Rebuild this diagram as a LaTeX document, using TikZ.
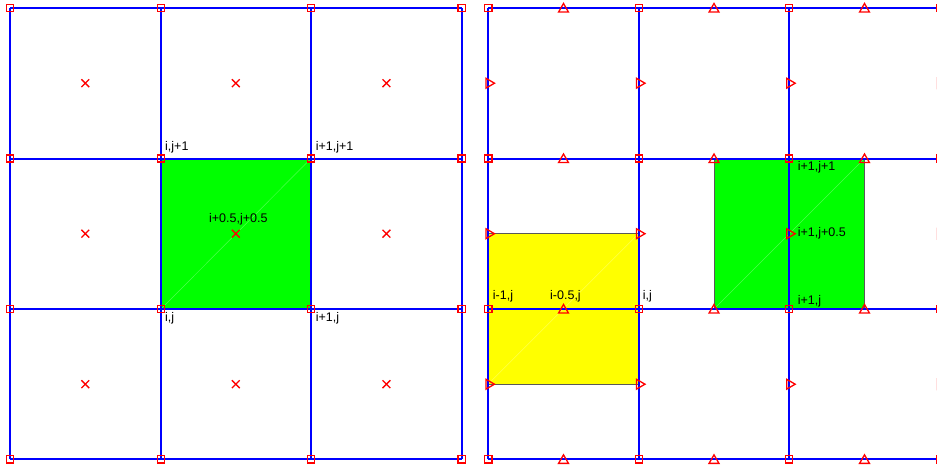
\documentclass[tikz,border=0pt]{standalone}
\usepackage{fontspec}
\setmainfont{Liberation Sans}
\usetikzlibrary{shapes.geometric,shapes.misc}
\definecolor{cellgreen}{RGB}{0,255,0}
\definecolor{cellyellow}{RGB}{255,255,0}
\definecolor{gridblue}{RGB}{0,0,255}
\definecolor{markred}{RGB}{255,0,0}
\tikzset{
  gridline/.style={draw=gridblue, line width=2pt},
  cellbox/.style={draw=black!65, line width=1pt},
  diagline/.style={draw=white, opacity=0.3, line width=0.5pt},
  sqmark/.style={draw=markred, rectangle, minimum size=7.2pt, inner sep=0pt, line width=1.3pt},
  upmark/.style={draw=markred, regular polygon, regular polygon sides=3, minimum size=11.4pt, inner sep=0pt, line width=1.3pt},
  rightmark/.style={upmark, shape border rotate=-90},
  xmark/.style={draw=markred, cross out, minimum size=6.5pt, inner sep=0pt, line width=1.3pt},
  lbl/.style={font=\fontsize{12.5}{14}\selectfont, inner sep=0pt, anchor=base west},
}
\begin{document}
\begin{tikzpicture}[x=1pt,y=-1pt]
\useasboundingbox (0,0) rectangle (937,471);
\clip (0,0) rectangle (937,471);
% grid coordinates
\foreach \i/\x in {0/10,1/161,2/311,3/461.7}{
  \foreach \j/\y in {0/8,1/158.5,2/309,3/459.3}{
    \coordinate (L-\i-\j) at (\x,\y);
  }
}
\foreach \i/\x in {0/488.3,1/638.8,2/789,3/939.8}{
  \foreach \j/\y in {0/8,1/158.5,2/309,3/459.3}{
    \coordinate (R-\i-\j) at (\x,\y);
  }
}
% coloured cells
\fill[cellgreen] (L-1-2) rectangle (L-2-1);
\draw[diagline] (L-1-2) -- (L-2-1);
\coordinate (Y-bl) at (488.3,384);
\coordinate (Y-tr) at (638.8,233.5);
\filldraw[cellbox, fill=cellyellow] (Y-bl) rectangle (Y-tr);
\draw[diagline] (Y-bl) -- (Y-tr);
\coordinate (G-bl) at (714,309);
\coordinate (G-tr) at (864.5,158.5);
\filldraw[cellbox, fill=cellgreen] (G-bl) rectangle (G-tr);
\draw[diagline] (G-bl) -- (G-tr);
% grid lines
\foreach \k in {0,1,2,3}{
  \draw[gridline] (L-0-\k) -- (L-3-\k);
  \draw[gridline] (L-\k-0) -- (L-\k-3);
  \draw[gridline] (R-0-\k) -- (R-3-\k);
  \draw[gridline] (R-\k-0) -- (R-\k-3);
}
% node markers
\foreach \i in {0,1,2,3}{
  \foreach \j in {0,1,2,3}{
    \node[sqmark] (Lsq-\i-\j) at (L-\i-\j) {};
    \node[sqmark] (Rsq-\i-\j) at (R-\i-\j) {};
  }
}
% cell-centre markers
\foreach \i/\x in {0/85.3,1/235.8,2/386.4}{
  \foreach \j/\y in {0/83.2,1/233.7,2/384.2}{
    \node[xmark] (Lx-\i-\j) at (\x,\y) {};
  }
}
% right markers
\foreach \i/\x in {0/563.5,1/714,2/864.5}{
  \foreach \j/\y in {0/8,1/158.5,2/309,3/459.3}{
    \node[upmark] (Ru-\i-\j) at (\x,\y+1.2) {};
  }
}
\foreach \i/\x in {0/488.3,1/638.8,2/789,3/939.8}{
  \foreach \j/\y in {0/83.2,1/233.7,2/384.2}{
    \node[rightmark] (Rr-\i-\j) at (\x+0.5,\y) {};
  }
}
% labels
\node[lbl] (l1) at (165,150.5) {i,j+1};
\node[lbl] (l2) at (315.7,150.5) {i+1,j+1};
\node[lbl] (l3) at (165,321.5) {i,j};
\node[lbl] (l4) at (315.7,321.5) {i+1,j};
\node[lbl, anchor=base] (l5) at (238.3,222.3) {i+0.5,j+0.5};
\node[lbl] (r1) at (492.7,299) {i-1,j};
\node[lbl] (r2) at (550,299) {i-0.5,j};
\node[lbl] (r3) at (642.7,299) {i,j};
\node[lbl] (r4) at (797.7,170.5) {i+1,j+1};
\node[lbl] (r5) at (797.7,236.7) {i+1,j+0.5};
\node[lbl] (r6) at (797.7,304) {i+1,j};
\end{tikzpicture}
\end{document}
